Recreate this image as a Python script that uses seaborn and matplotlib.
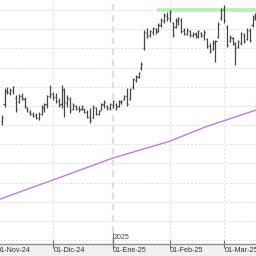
import numpy as np
import pandas as pd
import matplotlib
matplotlib.use("Agg")
import matplotlib.pyplot as plt
import matplotlib.transforms as mtransforms
import seaborn as sns

# ---- data (trading-day index, OHLC) ----
start_idx = 2
highs = [127.6, 134.7, 134.9, 134.7, 135.2, 132.8, 133.1, 133.4, 132.3, 129.7,
         128.9, 128.4, 128.2, 128.4, 130.3, 130.8, 132.8, 135.4, 133.6, 133.4,
         132.1, 135.4, 134.7, 132.8, 132.3, 130.8, 130.3, 130.0, 130.3, 129.5,
         128.9, 129.5, 130.3, 129.7, 128.9, 130.8, 131.5, 130.3, 130.8, 131.5,
         130.8, 131.5, 131.5, 132.8, 134.7, 134.7, 137.3, 138.1, 138.8, 141.4,
         149.8, 150.3, 149.8, 150.6, 150.3, 151.6, 152.9, 154.2, 154.5, 155.0,
         151.9, 152.9, 153.2, 152.9, 150.3, 150.3, 149.8, 149.3, 149.3, 149.8,
         149.3, 149.8, 147.7, 146.4, 147.2, 147.2, 151.9, 155.5, 156.3, 151.1,
         148.5, 148.0, 146.7, 147.2, 149.3, 149.0, 150.3, 150.3, 153.7, 154.2]
lows = [125.0, 129.7, 133.1, 132.8, 133.1, 128.4, 130.8, 131.5, 129.5, 128.4,
        127.6, 127.1, 126.6, 126.3, 127.6, 128.4, 129.5, 132.1, 131.5, 130.8,
        129.7, 129.5, 127.1, 129.7, 128.2, 128.9, 128.9, 128.4, 128.9, 128.2,
        126.8, 125.5, 126.8, 127.6, 127.6, 128.9, 129.5, 128.9, 128.9, 129.5,
        128.9, 129.7, 130.5, 131.5, 130.0, 131.5, 134.4, 136.2, 137.3, 139.4,
        144.6, 147.7, 148.0, 148.5, 148.7, 149.3, 150.6, 151.6, 152.1, 151.9,
        148.0, 150.3, 151.1, 149.0, 148.5, 148.5, 148.0, 148.0, 147.7, 147.7,
        148.0, 147.2, 145.1, 143.8, 144.6, 141.4, 147.7, 152.4, 151.6, 145.4,
        146.7, 145.9, 140.7, 145.1, 145.9, 146.4, 147.2, 146.7, 150.6, 152.4]
opens = [126.0, 130.5, 134.0, 133.4, 134.0, 132.0, 131.0, 132.6, 131.8, 129.5,
         128.5, 127.8, 127.5, 126.8, 128.0, 129.5, 130.2, 132.6, 133.2, 132.4,
         131.2, 130.4, 134.2, 130.8, 131.8, 129.2, 130.0, 129.4, 129.2, 129.3,
         128.4, 127.0, 126.9, 129.4, 128.0, 129.0, 130.2, 130.0, 129.4, 130.3,
         130.5, 130.0, 130.9, 131.7, 132.6, 131.8, 134.8, 136.7, 137.6, 139.8,
         145.0, 149.0, 148.4, 149.2, 150.0, 149.5, 151.0, 152.2, 153.5, 153.0,
         151.5, 150.6, 152.0, 152.5, 149.5, 148.8, 149.5, 148.5, 148.8, 148.2,
         149.0, 148.4, 147.4, 145.5, 144.8, 146.5, 148.0, 152.8, 155.2, 150.5,
         146.9, 147.6, 146.2, 145.4, 146.5, 148.5, 147.5, 149.6, 151.0, 153.0]
closes = [126.8, 134.0, 133.6, 134.2, 134.9, 129.2, 132.6, 132.0, 130.0, 128.8,
          127.9, 127.4, 126.9, 128.0, 129.8, 130.5, 132.5, 133.0, 132.3, 131.3,
          130.3, 134.5, 131.0, 132.0, 129.0, 130.3, 129.3, 129.0, 130.0, 128.5,
          127.2, 126.2, 129.8, 128.0, 128.6, 130.4, 131.0, 129.4, 130.5, 131.2,
          129.6, 131.2, 131.3, 132.5, 130.6, 134.3, 136.9, 137.8, 138.5, 141.0,
          149.2, 148.2, 149.5, 150.2, 149.2, 151.2, 152.5, 153.8, 152.8, 154.6,
          148.5, 152.4, 152.8, 149.4, 148.8, 149.8, 148.4, 149.0, 148.1, 149.4,
          148.3, 149.2, 145.6, 144.3, 146.6, 146.9, 151.4, 155.0, 152.3, 146.0,
          148.0, 146.4, 145.0, 146.8, 148.9, 147.0, 149.9, 147.3, 153.4, 153.9]

# moving average line read at a few points (index, value)
ma_idx = [1.4, 20, 41, 61, 73.4, 91.2]
ma_val = [105.7, 110.7, 116.4, 120.8, 124.5, 128.9]

# resistance level
resist_level = 155.1
resist_start = 56.5

month_idx = [0, 20, 41, 61, 80]
month_labels = ["01-Nov-24", "01-Dic-24", "01-Ene-25", "01-Feb-25", "01-Mar-25"]
year_idx = 41
year_label = "2025"

# ---- plotting ----
sns.set_theme(style="white")
plt.rcParams['font.family'] = ['Liberation Sans Narrow', 'Liberation Sans', 'DejaVu Sans']

fig = plt.figure(figsize=(2.56, 2.56), dpi=100)
fig.patch.set_facecolor('#f0f0f0')
ax = fig.add_axes([0, 12 / 256, 1, 244 / 256])
ax.set_facecolor('white')

idx = np.arange(start_idx, start_idx + len(highs))
df = pd.DataFrame({'idx': idx, 'open': opens, 'high': highs, 'low': lows, 'close': closes})

# grid
for y in np.arange(95, 160, 5):
    ax.axhline(y, color='#dedede', lw=0.7, ls=(0, (2, 2)), zorder=0)
for m in month_idx[1:]:
    if m == year_idx:
        ax.axvline(m, color='#e0e0e0', lw=1.6, ls=(0, (3, 2)), zorder=0)
    else:
        ax.axvline(m, color='#dedede', lw=0.7, ls=(0, (2, 2)), zorder=0)

# resistance
ax.plot([resist_start, 95], [resist_level, resist_level], color='#b5f2b0', lw=2.6,
        solid_capstyle='butt', zorder=1)

# OHLC bars
bar_col = '#454545'
ax.vlines(df['idx'], df['low'], df['high'], color=bar_col, lw=0.9, zorder=3)
ax.hlines(df['open'], df['idx'] - 0.38, df['idx'], color=bar_col, lw=0.9, zorder=3)
ax.hlines(df['close'], df['idx'], df['idx'] + 0.38, color=bar_col, lw=0.9, zorder=3)

# moving average
sns.lineplot(x=ma_idx, y=ma_val, ax=ax, color='#b574ff', lw=0.95, zorder=2)

ax.set_xlim(4 / 2.85, 260 / 2.85)
ax.set_ylim(94.0, 157.6)
ax.set_yticks([])
ax.set_xticks(month_idx[1:])
ax.set_xticklabels([])
ax.tick_params(axis='x', direction='inout', length=6, width=0.8, color='#707070', bottom=True)
for s in ['top', 'left', 'right']:
    ax.spines[s].set_visible(False)
ax.spines['bottom'].set_color('#8c8c8c')
ax.spines['bottom'].set_linewidth(1.0)

trans = mtransforms.blended_transform_factory(ax.transData, ax.transAxes)
for m, lab in zip(month_idx, month_labels):
    ax.text(m + 0.12, -0.026, lab, transform=trans, ha='left', va='center',
            fontsize=5.2, color='#333333', clip_on=False)
ax.plot([year_idx, year_idx], [-0.012, 0.045], transform=trans, color='#707070',
        lw=0.8, clip_on=False)
ax.text(year_idx + 0.3, 0.026, year_label, transform=trans, ha='left', va='center',
        fontsize=5.0, color='#444444', clip_on=False)

fig.savefig('out.png', dpi=100, facecolor=fig.get_facecolor())
